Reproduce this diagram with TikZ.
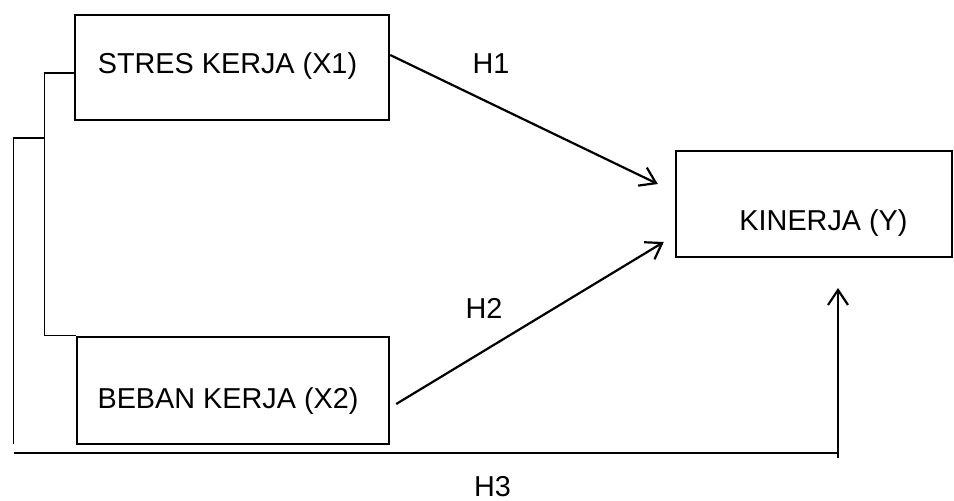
\documentclass[tikz,border=0pt]{standalone}
\usepackage{fontspec}
\setmainfont{Liberation Sans}
\usetikzlibrary{arrows.meta}
\begin{document}
\begin{tikzpicture}[x=1pt,y=-1pt,
  box/.style={draw, line width=2.4pt, inner sep=0pt, rectangle},
  lbl/.style={inner sep=0pt, anchor=base, font=\fontsize{28.8}{34}\selectfont},
  thin/.style={line width=1.1pt},
  arr/.style={line width=2.2pt, -{Straight Barb[length=15pt,width=20pt,line width=2.2pt]}}]
  \useasboundingbox (0,0) rectangle (954,501);

  % variable boxes
  \node[box, minimum width=314pt, minimum height=105pt] (x1) at (232,67.5) {};
  \node[box, minimum width=312pt, minimum height=107pt] (x2) at (233,390.5) {};
  \node[box, minimum width=276pt, minimum height=106pt] (y) at (814,204) {};

  % box captions
  \node[lbl] (tx1) at (227.5,73.3) {STRES KERJA (X1)};
  \node[lbl] (tx2) at (228,408) {BEBAN KERJA (X2)};
  \node[lbl] (ty) at (823.5,230) {KINERJA (Y)};

  % hypothesis labels
  \node[lbl] (h1) at (491,73.3) {H1};
  \node[lbl] (h2) at (484,318) {H2};
  \node[lbl] (h3) at (492.5,496) {H3};

  % bracket joining X1 and X2
  \coordinate (bx) at (44.5,73);
  \draw[thin] (x1.west |- bx) -- (bx) -- (bx |- x2.north) -- (x2.north west);

  % outer line carrying the joint effect (H3)
  \coordinate (ob) at (13.5,138);
  \draw[thin] (bx |- ob) -- (ob) -- (13.5,444);
  \coordinate (h3foot) at (838,458);
  \draw[thin] (13.5,453) -- (838,453);
  \draw[arr] (h3foot) -- (838,288);

  % partial effects
  \draw[arr] ([yshift=12.5pt]x1.east) -- ([xshift=-17pt,yshift=20pt]y.west);
  \draw[arr] ([xshift=6pt,yshift=-13.5pt]x2.east) -- ([xshift=-11pt,yshift=-38pt]y.west);
\end{tikzpicture}
\end{document}
